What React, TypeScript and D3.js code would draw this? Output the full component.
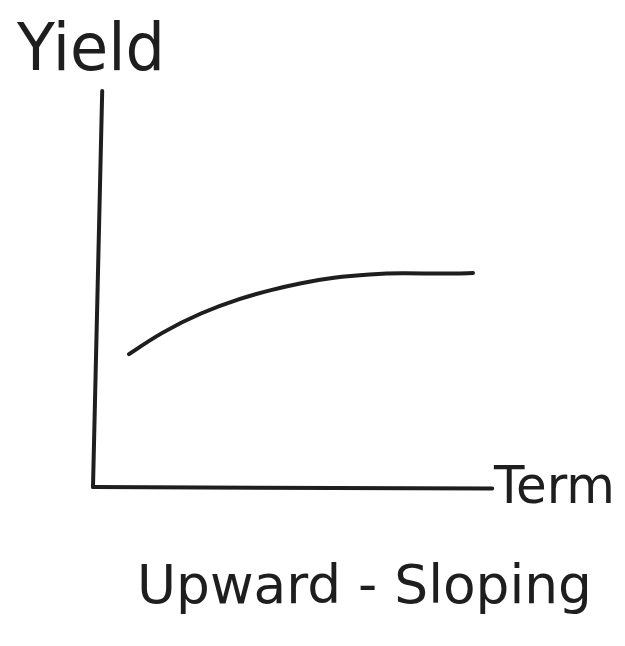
import React from "react";
import * as d3 from "d3";

// Sketch data (abstract units: Term 0-10, Yield 0-10)
const terms = [0.9, 1.7, 2.7, 3.7, 4.45, 5.2, 6.0, 6.95, 7.7, 8.7, 9.5];
const yields = [3.32, 3.86, 4.36, 4.72, 4.93, 5.1, 5.24, 5.32, 5.35, 5.33, 5.35];
const yAxisTopTerm = 0.23; // hand-drawn axis leans slightly
const yLabel = "Yield";
const xLabel = "Term";
const title = "Upward - Sloping";

const W = 625;
const H = 646;
const ink = "#1e1e1e";
const font = "'DejaVu Sans', sans-serif";

export default function App() {
  const x = d3.scaleLinear().domain([0, 10]).range([93, 493]);
  const y = d3.scaleLinear().domain([0, 10]).range([487, 87]);

  const straight = d3
    .line<[number, number]>()
    .x((d) => x(d[0]))
    .y((d) => y(d[1]));

  const smooth = d3
    .line<[number, number]>()
    .x((d) => x(d[0]))
    .y((d) => y(d[1]))
    .curve(d3.curveBasis);

  const pts: [number, number][] = terms.map((t, i) => [t, yields[i]]);
  const yAxisPath = straight([
    [0, 0],
    [yAxisTopTerm, 9.9],
  ]);
  const xAxisPath = straight([
    [0, 0],
    [9.98, -0.04],
  ]);
  const curvePath = smooth(pts);

  return (
    <svg
      width={W}
      height={H}
      style={{ position: "absolute", left: 0, top: 0, background: "#fff" }}
    >
      <rect width={W} height={H} fill="#fff" />
      <path d={yAxisPath ?? ""} fill="none" stroke={ink} strokeWidth={4} strokeLinecap="round" />
      <path d={xAxisPath ?? ""} fill="none" stroke={ink} strokeWidth={4} strokeLinecap="round" />
      <path d={curvePath ?? ""} fill="none" stroke={ink} strokeWidth={4} strokeLinecap="round" />
      <text
        x={17}
        y={70}
        fontFamily={font}
        fontSize={66}
        fill={ink}
        textLength={148}
        lengthAdjust="spacingAndGlyphs"
      >
        {yLabel}
      </text>
      <text
        x={494}
        y={503}
        fontFamily={font}
        fontSize={52}
        fill={ink}
        textLength={121}
        lengthAdjust="spacingAndGlyphs"
      >
        {xLabel}
      </text>
      <text
        x={137}
        y={603}
        fontFamily={font}
        fontSize={54}
        fill={ink}
        textLength={455}
        lengthAdjust="spacingAndGlyphs"
      >
        {title}
      </text>
    </svg>
  );
}
